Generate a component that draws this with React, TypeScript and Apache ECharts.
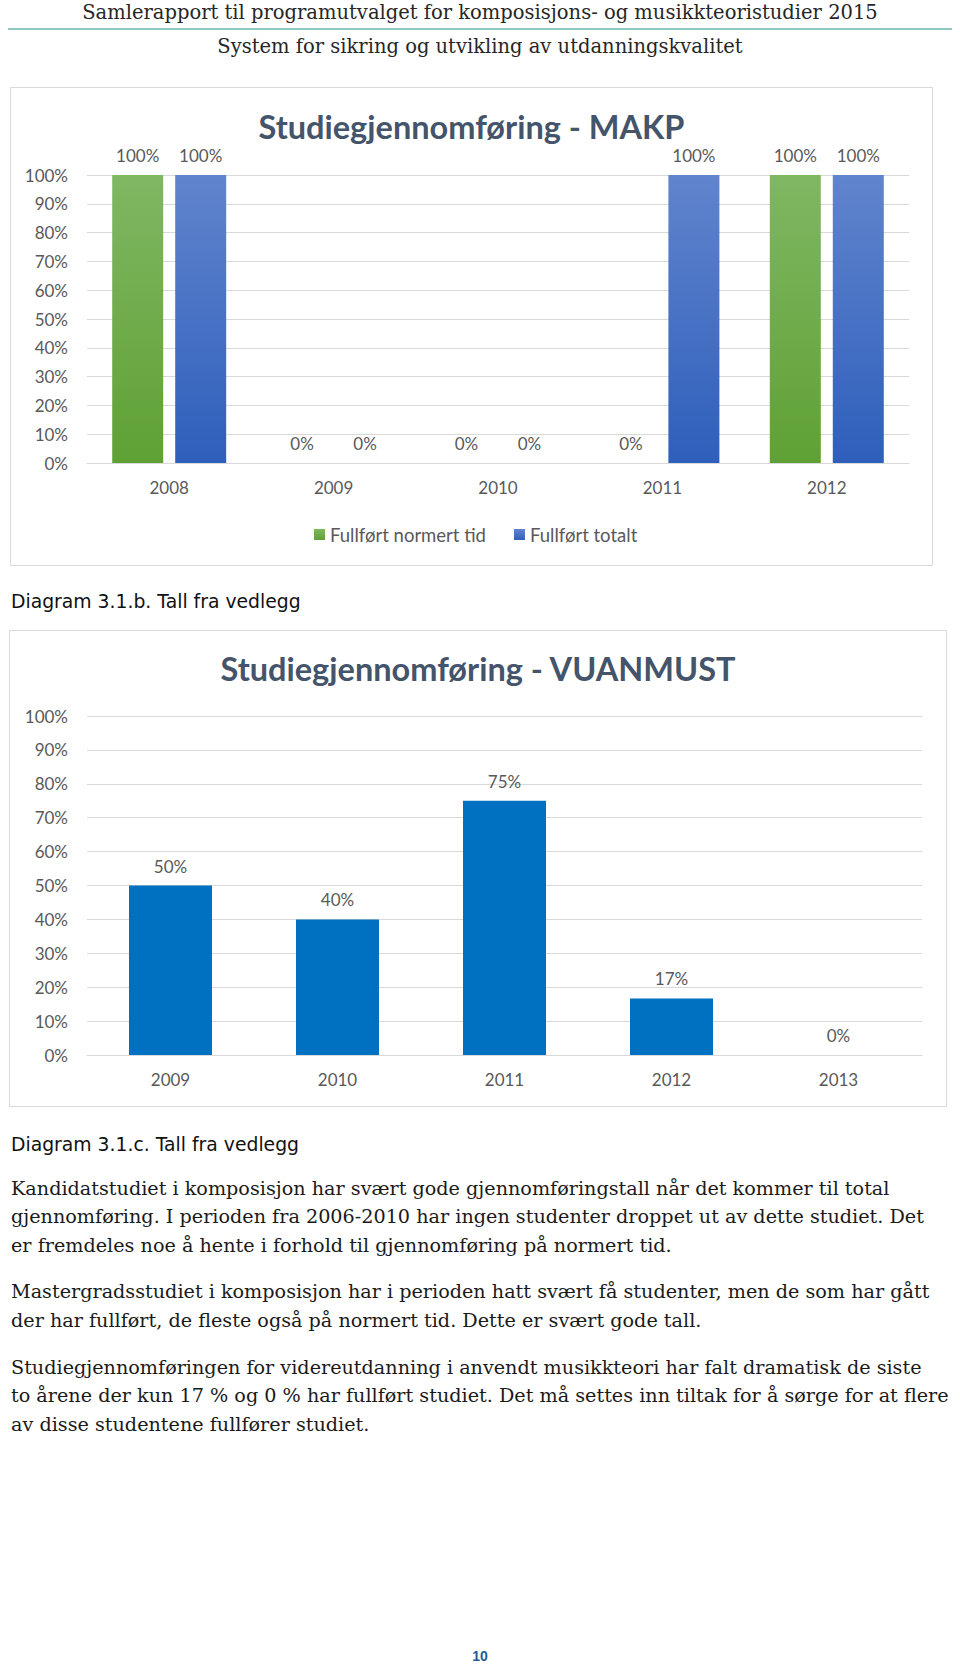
import React, { useEffect, useRef } from "react";
import * as echarts from "echarts";

// ---- Data ----
const MAKP_YEARS = ["2008", "2009", "2010", "2011", "2012"];
const MAKP_NORMERT = [100, 0, 0, 0, 100];
const MAKP_TOTALT = [100, 0, 0, 100, 100];
const VUAN_YEARS = ["2009", "2010", "2011", "2012", "2013"];
const VUAN_VALUES = [50, 40, 75, 16.67, 0];
const SERIES_NAMES = ["Fullført normert tid", "Fullført totalt"];

const HEADER_1 = "Samlerapport til programutvalget for komposisjons- og musikkteoristudier 2015";
const HEADER_2 = "System for sikring og utvikling av utdanningskvalitet";
const TITLE_1 = "Studiegjennomføring - MAKP";
const TITLE_2 = "Studiegjennomføring - VUANMUST";
const CAPTION_1 = "Diagram 3.1.b. Tall fra vedlegg";
const CAPTION_2 = "Diagram 3.1.c. Tall fra vedlegg";
const PARAGRAPHS = [
  [
    "Kandidatstudiet i komposisjon har svært gode gjennomføringstall når det kommer til total",
    "gjennomføring. I perioden fra 2006-2010 har ingen studenter droppet ut av dette studiet. Det",
    "er fremdeles noe å hente i forhold til gjennomføring på normert tid.",
  ],
  [
    "Mastergradsstudiet i komposisjon har i perioden hatt svært få studenter, men de som har gått",
    "der har fullført, de fleste også på normert tid. Dette er svært gode tall.",
  ],
  [
    "Studiegjennomføringen for videreutdanning i anvendt musikkteori har falt dramatisk de siste",
    "to årene der kun 17 % og 0 % har fullført studiet. Det må settes inn tiltak for å sørge for at flere",
    "av disse studentene fullfører studiet.",
  ],
];
const PAGE_NUMBER = "10";

const CHART_FONT = "Lato";
const SERIF = "DejaVu Serif";
const AXIS_COLOR = "#595959";
const GRID_COLOR = "#d9d9d9";

function buildOption() {
  const green = new echarts.graphic.LinearGradient(0, 0, 0, 1, [
    { offset: 0, color: "#80b763" },
    { offset: 1, color: "#5fa134" },
  ]);
  const blue = new echarts.graphic.LinearGradient(0, 0, 0, 1, [
    { offset: 0, color: "#6184cd" },
    { offset: 1, color: "#2e5fbb" },
  ]);
  const pct = (p: any) => Math.round(p.value) + "%";
  const label = {
    show: true,
    position: "top" as const,
    distance: 11,
    formatter: pct,
    color: AXIS_COLOR,
    fontSize: 17,
    fontFamily: CHART_FONT,
  };
  const yAxisBase = {
    type: "value" as const,
    min: 0,
    max: 100,
    interval: 10,
    axisLine: { show: false },
    axisTick: { show: false },
    splitLine: { lineStyle: { color: GRID_COLOR, width: 1 } },
    axisLabel: {
      formatter: "{value}%",
      color: AXIS_COLOR,
      fontSize: 17,
      fontFamily: CHART_FONT,
      margin: 19,
    },
  };
  const xAxisBase = {
    type: "category" as const,
    axisTick: { show: false },
    axisLine: { lineStyle: { color: GRID_COLOR, width: 1 } },
    axisLabel: { color: AXIS_COLOR, fontSize: 17, fontFamily: CHART_FONT, margin: 16 },
  };

  const paraLines: any[] = [];
  const paraY = [
    [1188, 1216, 1245],
    [1291, 1320],
    [1367, 1395, 1424],
  ];
  PARAGRAPHS.forEach((p, i) =>
    p.forEach((line, j) =>
      paraLines.push({
        type: "text",
        x: 11,
        y: paraY[i][j],
        style: {
          text: line,
          fill: "#1a1a1a",
          fontSize: 19.2,
          fontFamily: SERIF,
          align: "left",
          verticalAlign: "middle",
        },
      })
    )
  );

  return {
    animation: false,
    backgroundColor: "#ffffff",
    grid: [
      { left: 87, top: 175, width: 822, height: 288 },
      { left: 87, top: 716, width: 835, height: 339 },
    ],
    xAxis: [
      { ...xAxisBase, gridIndex: 0, data: MAKP_YEARS },
      { ...xAxisBase, gridIndex: 1, data: VUAN_YEARS },
    ],
    yAxis: [
      { ...yAxisBase, gridIndex: 0 },
      { ...yAxisBase, gridIndex: 1 },
    ],
    legend: {
      data: SERIES_NAMES,
      left: 309,
      top: 520,
      icon: "rect",
      itemWidth: 11,
      itemHeight: 11,
      itemGap: 28,
      textStyle: { color: AXIS_COLOR, fontSize: 18.5, fontFamily: CHART_FONT },
    },
    series: [
      {
        name: SERIES_NAMES[0],
        type: "bar",
        xAxisIndex: 0,
        yAxisIndex: 0,
        data: MAKP_NORMERT,
        barWidth: 51,
        barGap: "23.5%",
        itemStyle: { color: green },
        label,
      },
      {
        name: SERIES_NAMES[1],
        type: "bar",
        xAxisIndex: 0,
        yAxisIndex: 0,
        data: MAKP_TOTALT,
        barWidth: 51,
        barGap: "23.5%",
        itemStyle: { color: blue },
        label,
      },
      {
        name: "VUANMUST",
        type: "bar",
        xAxisIndex: 1,
        yAxisIndex: 1,
        data: VUAN_VALUES,
        barWidth: 83,
        itemStyle: { color: "#0070c0" },
        label,
      },
    ],
    graphic: [
      {
        type: "text",
        x: 480,
        y: 12,
        style: {
          text: HEADER_1,
          fill: "#262626",
          fontSize: 19.5,
          fontFamily: SERIF,
          align: "center",
          verticalAlign: "middle",
        },
      },
      {
        type: "line",
        shape: { x1: 8, y1: 29, x2: 952, y2: 29 },
        style: { stroke: "#8fcac1", lineWidth: 2 },
      },
      {
        type: "text",
        x: 480,
        y: 46,
        style: {
          text: HEADER_2,
          fill: "#262626",
          fontSize: 19.5,
          fontFamily: SERIF,
          align: "center",
          verticalAlign: "middle",
        },
      },
      {
        type: "rect",
        shape: { x: 10.5, y: 87.5, width: 922, height: 478 },
        style: { fill: "none", stroke: GRID_COLOR, lineWidth: 1 },
        z: -1,
      },
      {
        type: "text",
        x: 471.5,
        y: 126,
        style: {
          text: TITLE_1,
          fill: "#44546a",
          fontSize: 32.5,
          fontWeight: "bold",
          fontFamily: CHART_FONT,
          align: "center",
          verticalAlign: "middle",
        },
      },
      {
        type: "text",
        x: 11,
        y: 601,
        style: {
          text: CAPTION_1,
          fill: "#111111",
          fontSize: 18.8,
          fontFamily: "DejaVu Sans",
          align: "left",
          verticalAlign: "middle",
        },
      },
      {
        type: "rect",
        shape: { x: 9.5, y: 630.5, width: 937, height: 476 },
        style: { fill: "none", stroke: GRID_COLOR, lineWidth: 1 },
        z: -1,
      },
      {
        type: "text",
        x: 478,
        y: 668,
        style: {
          text: TITLE_2,
          fill: "#44546a",
          fontSize: 32.5,
          fontWeight: "bold",
          fontFamily: CHART_FONT,
          align: "center",
          verticalAlign: "middle",
        },
      },
      {
        type: "text",
        x: 11,
        y: 1144,
        style: {
          text: CAPTION_2,
          fill: "#111111",
          fontSize: 18.8,
          fontFamily: "DejaVu Sans",
          align: "left",
          verticalAlign: "middle",
        },
      },
      ...paraLines,
      {
        type: "text",
        x: 480,
        y: 1656,
        style: {
          text: PAGE_NUMBER,
          fill: "#1f5c99",
          fontSize: 14,
          fontWeight: "bold",
          fontFamily: "Liberation Sans",
          align: "center",
          verticalAlign: "middle",
        },
      },
    ],
  };
}

export default function App() {
  const ref = useRef<HTMLDivElement>(null);
  useEffect(() => {
    if (!ref.current) return;
    const chart = echarts.init(ref.current, null, { renderer: "svg", width: 960, height: 1669 });
    chart.setOption(buildOption() as any);
    return () => chart.dispose();
  }, []);
  return (
    <div
      ref={ref}
      style={{ position: "absolute", left: 0, top: 0, width: 960, height: 1669, background: "#ffffff" }}
    />
  );
}
